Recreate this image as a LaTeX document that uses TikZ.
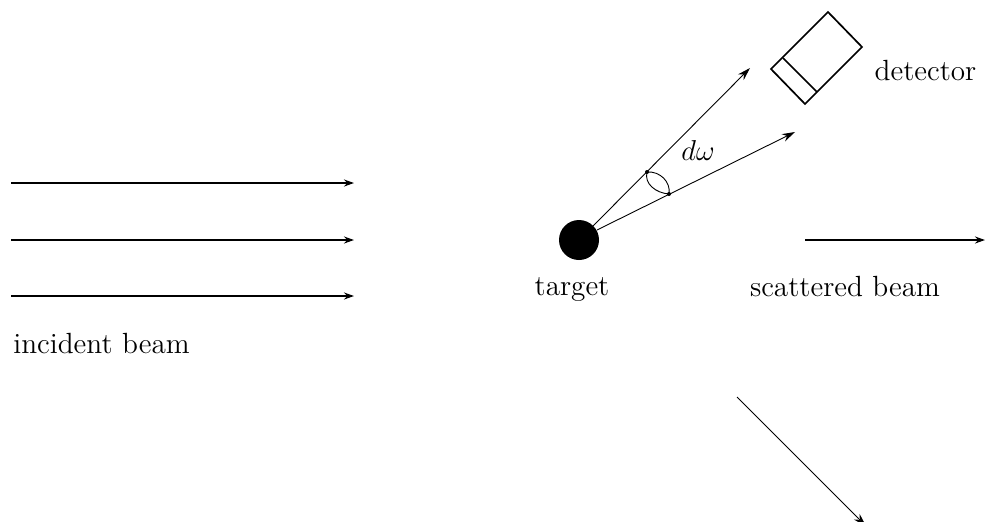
\documentclass[tikz,border=0pt]{standalone}
\usetikzlibrary{arrows.meta}
\tikzset{
  thick beam/.style={line width=0.95pt,-{Stealth[length=5pt,width=3.5pt]}},
  thin beam/.style={line width=0.45pt,-{Stealth[length=6.5pt,width=4pt]}},
  label text/.style={inner sep=0pt,anchor=base,font=\fontsize{14.6}{17}\selectfont},
  box line/.style={line width=0.85pt,line join=miter}
}
\begin{document}
\begin{tikzpicture}[x=0.5pt,y=-0.5pt]
\useasboundingbox (0,0) rectangle (985,521);
\clip (0,0) rectangle (985,521);
% incident beams
\coordinate (a1) at (11,183); \coordinate (a2) at (354,183);
\coordinate (b1) at (11,240); \coordinate (b2) at (354,240);
\coordinate (c1) at (11,296); \coordinate (c2) at (354,296);
\draw[thick beam] (a1) -- (a2);
\draw[thick beam] (b1) -- (b2);
\draw[thick beam] (c1) -- (c2);
% target
\node[circle,fill=black,inner sep=0pt,minimum size=20pt] (target) at (579,240) {};
% scattered
\coordinate (s1) at (805,240); \coordinate (s2) at (985,240);
\draw[thick beam] (s1) -- (s2);
\coordinate (d1) at (737,397); \coordinate (d2) at (866,526);
\draw[thin beam] (d1) -- (d2);
% cone
\coordinate (u1) at (593,226); \coordinate (u2) at (750,68);
\coordinate (v1) at (597,230); \coordinate (v2) at (795,132);
\draw[thin beam] (u1) -- (u2);
\draw[thin beam] (v1) -- (v2);
\coordinate (p) at (647,172); \coordinate (q) at (669,194);
\fill (p) circle (1pt); \fill (q) circle (1pt);
\draw[line width=0.45pt] (p) .. controls (660,171) and (671,182) .. (q);
\draw[line width=0.45pt] (p) .. controls (644,184) and (656,193) .. (q);
% detector
\coordinate (t) at (828,12); \coordinate (r) at (862,47);
\coordinate (b) at (805,104); \coordinate (l) at (771,69);
\coordinate (m1) at (783,58); \coordinate (m2) at (817,92);
\draw[box line] (t) -- (r) -- (b) -- (l) -- cycle;
\draw[box line] (m1) -- (m2);
% labels
\node[label text] (dw) at (698,160) {$d\omega$};
\node[label text] (det) at (925.5,80) {detector};
\node[label text] (tg) at (572,295) {target};
\node[label text] (sb) at (845,296) {scattered beam};
\node[label text] (ib) at (101.5,353) {incident beam};
\end{tikzpicture}
\end{document}
